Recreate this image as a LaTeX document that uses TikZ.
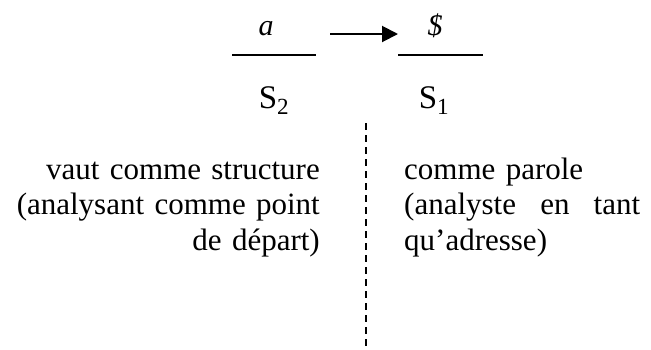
\documentclass[tikz,border=0pt]{standalone}
\usepackage{fontspec}
\setmainfont{Liberation Serif}
\usetikzlibrary{arrows.meta}

\begin{document}
\begin{tikzpicture}[x=1pt,y=-1pt,>={Triangle[length=16pt,width=16pt]},font=\fontsize{31}{35.5}\selectfont]
    \useasboundingbox (0,0) rectangle (651,349);

    \node[anchor=base,font=\fontsize{30}{32}\selectfont] (a) at (266,35) {\textit{a}};
    \node[anchor=base,font=\fontsize{30}{32}\selectfont] (barS) at (435,35) {\textit{\$}};
    \node[anchor=base,font=\fontsize{33}{36}\selectfont] (Sdeux) at (274,108) {S\textsubscript{2}};
    \node[anchor=base,font=\fontsize{33}{36}\selectfont] (Sun) at (434,108) {S\textsubscript{1}};

    \draw[line width=2pt] (232,55) -- (316,55);
    \draw[line width=2pt] (398,55) -- (483,55);

    \coordinate (pA) at (330,34);
    \coordinate (pB) at (398,34);
    \draw[line width=2pt,->] (pA) -- (pB);

    \draw[line width=1.5pt,dash pattern=on 7pt off 5pt] (366,123) -- (366,349);

    \node[anchor=base east,text width=317pt,align=right,inner sep=0pt] (structure) at (320,179)
        {vaut comme structure\\(analysant comme point\\de départ)};
    \node[anchor=base west,text width=236pt,align=left,inner sep=0pt] (parole) at (404,179)
        {comme parole\\\leavevmode\hbox to\hsize{(analyste\hfill en\hfill tant}\\qu’adresse)};
\end{tikzpicture}
\end{document}
